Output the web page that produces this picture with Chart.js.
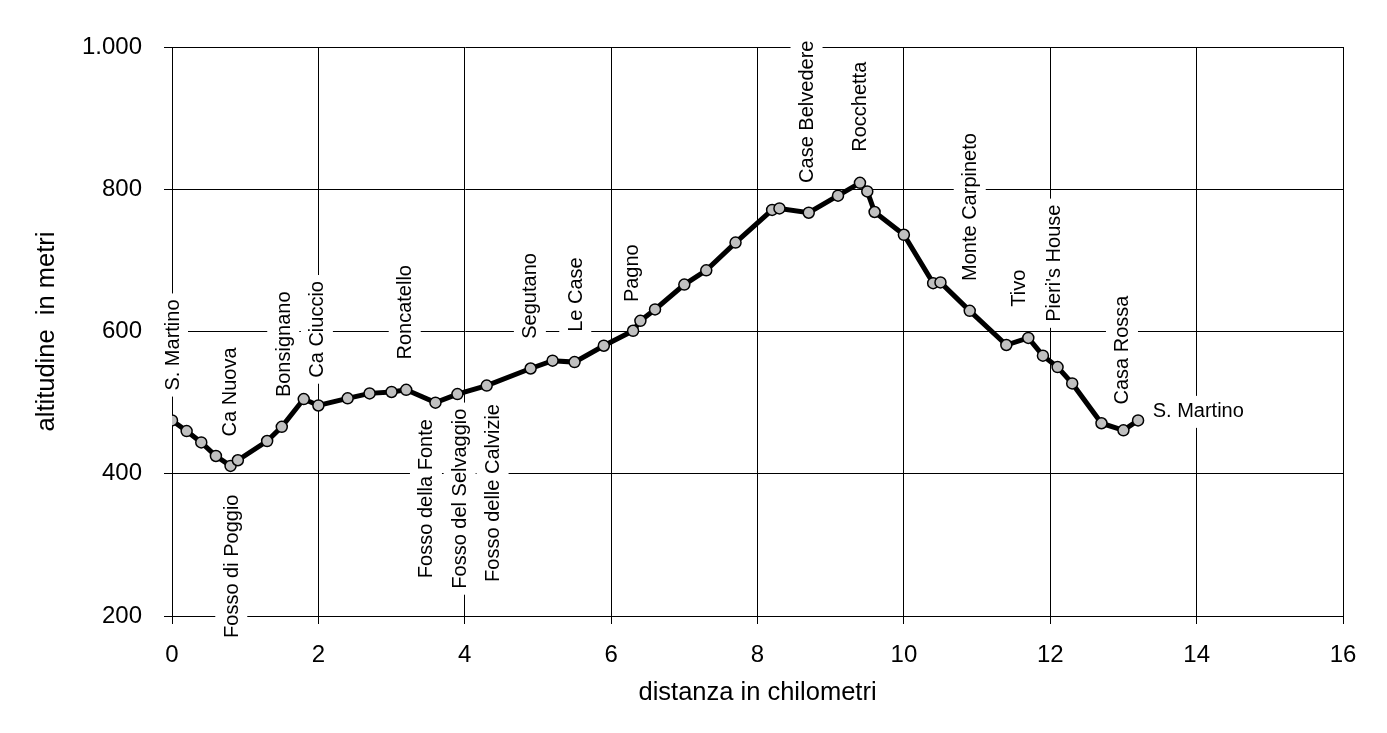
<!DOCTYPE html>
<html>
<head>
<meta charset="utf-8">
<script src="https://cdn.jsdelivr.net/npm/chart.js@4"></script>
<style>
  html, body { margin: 0; padding: 0; background: #fff; }
  #wrap { width: 1387px; height: 733px; }
</style>
</head>
<body>
<div id="wrap"><canvas id="profile"></canvas></div>
<script>
// distance (km) and altitude (m) of each surveyed point
const distKm = [0, 0.2, 0.4, 0.6, 0.8, 0.9, 1.3, 1.5, 1.8, 2.0, 2.4, 2.7, 3.0, 3.2, 3.6, 3.9, 4.3,
  4.9, 5.2, 5.5, 5.9, 6.3, 6.4, 6.6, 7.0, 7.3, 7.7, 8.2, 8.3, 8.7, 9.1, 9.4, 9.5, 9.6, 10.0,
  10.4, 10.5, 10.9, 11.4, 11.7, 11.9, 12.1, 12.3, 12.7, 13.0, 13.2];
const altitude = [475, 460, 444, 425, 411, 419, 446, 466, 505, 496, 506, 513, 515, 518, 500, 512, 524,
  548, 559, 557, 580, 601, 615, 631, 666, 686, 725, 771, 773, 767, 791, 809, 797, 768, 736,
  668, 669, 629, 581, 591, 566, 550, 527, 471, 461, 475];

const yTicks = [200, 400, 600, 800, 1000];

// place names: text, centre km, centre altitude (vertical text)
const placeNames = ["S. Martino", "Ca Nuova", "Fosso di Poggio", "Bonsignano", "Ca Ciuccio",
  "Roncatello", "Fosso della Fonte", "Fosso del Selvaggio", "Fosso delle Calvizie", "Segutano",
  "Le Case", "Pagno", "Case Belvedere", "Rocchetta", "Monte Carpineto", "Tivo", "Pieri's House",
  "Casa Rossa"];
const placeKm = [0, 0.79, 0.81, 1.52, 1.98, 3.18, 3.47, 3.93, 4.38, 4.89, 5.51, 6.28, 8.67, 9.40,
  10.90, 11.57, 12.04, 12.98];
const placeAlt = [581, 515, 270, 582, 603, 627, 365, 365, 373, 650, 652, 682, 909, 916, 775, 661,
  696, 574];
// horizontal label at the end of the route
const endName = "S. Martino";
const endKm = 13.40;
const endAlt = 487;

const FONT = "Arial, 'Liberation Sans', sans-serif";

const placeLabels = {
  id: "placeLabels",
  beforeDatasetsDraw(chart) {
    const { ctx, scales: { x, y } } = chart;
    ctx.save();
    ctx.font = "20px " + FONT;
    ctx.textAlign = "center";
    ctx.textBaseline = "middle";
    placeNames.forEach((name, i) => {
      const px = x.getPixelForValue(placeKm[i]);
      const py = y.getPixelForValue(placeAlt[i]);
      const w = ctx.measureText(name).width;
      ctx.save();
      ctx.translate(px, py);
      ctx.rotate(-Math.PI / 2);
      ctx.fillStyle = "#fff";
      ctx.fillRect(-w / 2 - 6, -16, w + 12, 32);
      ctx.fillStyle = "#000";
      ctx.fillText(name, 0, 1);
      ctx.restore();
    });
    const ex = x.getPixelForValue(endKm);
    const ey = y.getPixelForValue(endAlt);
    const ew = ctx.measureText(endName).width;
    ctx.textAlign = "left";
    ctx.fillStyle = "#fff";
    ctx.fillRect(ex - 6, ey - 16, ew + 12, 32);
    ctx.fillStyle = "#000";
    ctx.fillText(endName, ex, ey);
    ctx.restore();
  }
};

new Chart(document.getElementById("profile"), {
  type: "line",
  data: {
    datasets: [{
      data: distKm.map((d, i) => ({ x: d, y: altitude[i] })),
      borderColor: "#000",
      borderWidth: 5,
      pointRadius: 5.5,
      pointBackgroundColor: "#c0c0c0",
      pointBorderColor: "#000",
      pointBorderWidth: 1.5,
      tension: 0
    }]
  },
  options: {
    responsive: true,
    maintainAspectRatio: false,
    animation: false,
    layout: { padding: { top: 47, right: 44, left: 0, bottom: 0 } },
    plugins: {
      legend: { display: false },
      tooltip: { enabled: false }
    },
    scales: {
      x: {
        type: "linear",
        min: 0,
        max: 16,
        afterFit: (s) => { s.height = 117; },
        ticks: { stepSize: 2, color: "#000", font: { size: 24, family: FONT }, padding: 17 },
        grid: { color: "#000", lineWidth: 1, tickLength: 8 },
        border: { color: "#000" },
        title: {
          display: true, text: "distanza in chilometri", color: "#000",
          font: { size: 25.5, family: FONT }, padding: { top: 0, bottom: 25 }
        }
      },
      y: {
        min: 200,
        max: 1000,
        afterFit: (s) => { s.width = 172; },
        afterBuildTicks: (s) => { s.ticks = yTicks.map(v => ({ value: v })); },
        ticks: {
          color: "#000", font: { size: 24, family: FONT }, padding: 22,
          callback: (v) => v === 1000 ? "1.000" : String(v)
        },
        grid: { color: "#000", lineWidth: 1, tickLength: 8 },
        border: { color: "#000" },
        title: {
          display: true, text: "altitudine  in metri", color: "#000",
          font: { size: 25.5, family: FONT }, padding: { top: 32, bottom: 0 }
        }
      }
    }
  },
  plugins: [placeLabels]
});
</script>
</body>
</html>
